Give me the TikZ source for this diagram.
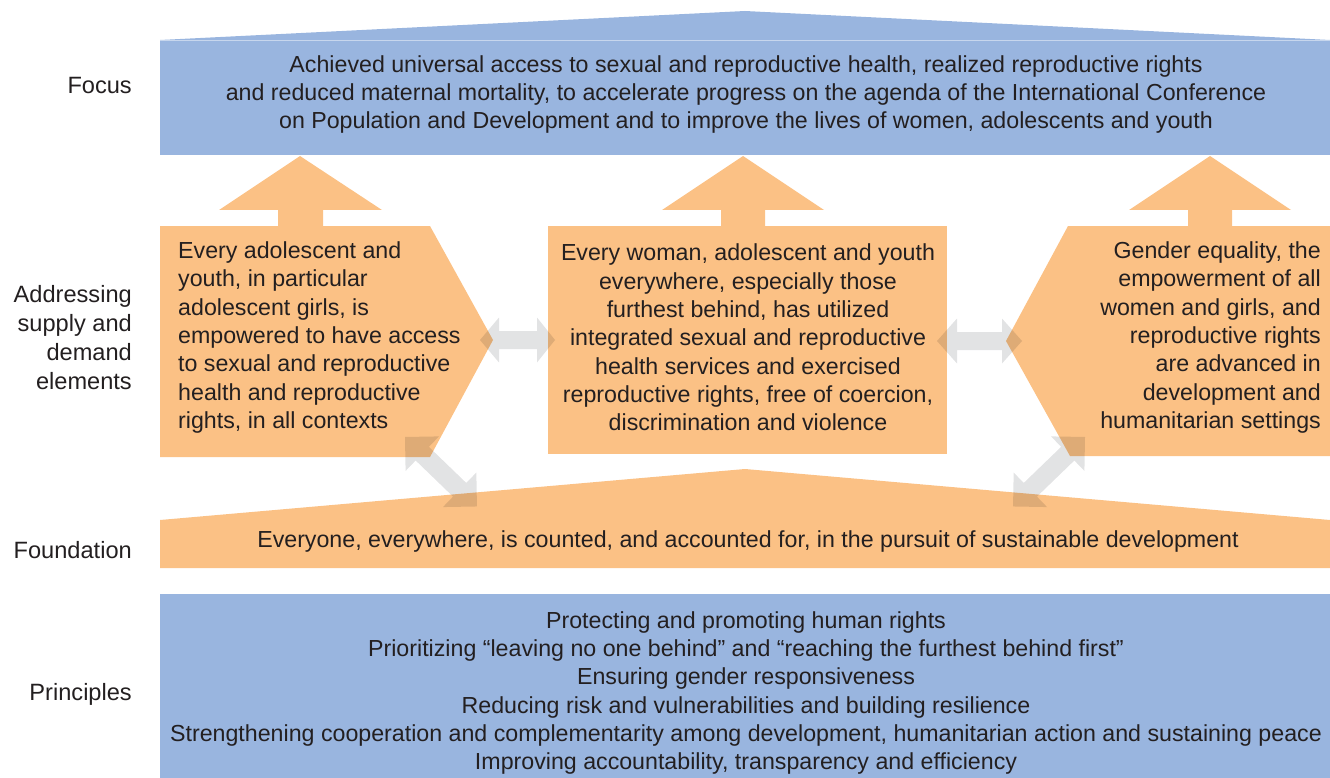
\documentclass[tikz,border=0pt]{standalone}
\usepackage{fontspec}
\setmainfont{Liberation Sans}
\definecolor{fblue}{RGB}{153,181,223}
\definecolor{forange}{RGB}{251,193,133}
\definecolor{fgray}{RGB}{226,227,228}
\definecolor{ftext}{RGB}{35,31,32}
\begin{document}
\begin{tikzpicture}[x=1pt,y=-1pt,
  txt/.style={text=ftext, font=\fontsize{23.2}{28.3}\selectfont, inner sep=0pt},
  lbl/.style={text=ftext, font=\fontsize{23.6}{28.8}\selectfont, inner sep=0pt, anchor=east, align=right},
  bluefill/.style={fill=fblue},
  orangefill/.style={fill=forange},
  grayarrow/.style={fill=fgray, blend mode=multiply},
]
\useasboundingbox (0,0) rectangle (1330,778);
% focus
\fill[bluefill] (160,40) -- (745,11) -- (1330,40) -- (1330,155) -- (160,155) -- cycle;
\draw[white, opacity=0.45, line width=0.7pt] (160,40) -- (1330,40);
% up arrows
\fill[orangefill] (300,156) -- (382,210) -- (323,210) -- (323,226) -- (278,226) -- (278,210) -- (219,210) -- cycle;
\fill[orangefill] (743,156) -- (824,210) -- (765,210) -- (765,226) -- (721,226) -- (721,210) -- (662,210) -- cycle;
\fill[orangefill] (1210,156) -- (1291,210) -- (1232,210) -- (1232,226) -- (1188,226) -- (1188,210) -- (1129,210) -- cycle;
% middle boxes
\fill[orangefill] (160,226) -- (430,226) -- (493,340) -- (430,457) -- (160,457) -- cycle;
\fill[orangefill] (548,226) rectangle (947,454);
\fill[orangefill] (1068,226) -- (1330,226) -- (1330,456) -- (1070,456) -- (1006,341) -- cycle;
% foundation
\fill[orangefill] (160,520) -- (745,469) -- (1330,520) -- (1330,568) -- (160,568) -- cycle;
% principles
\fill[bluefill] (160,594) rectangle (1330,778);
% gray double arrows
\fill[grayarrow] (480,340) -- (499,317.5) -- (499,331) -- (537,331) -- (537,317.5) -- (555,340) -- (537,362.5) -- (537,349) -- (499,349) -- (499,362.5) -- cycle;
\fill[grayarrow] (937,341) -- (957,318.5) -- (957,332) -- (1002,332) -- (1002,318.5) -- (1022,341) -- (1002,363.5) -- (1002,350) -- (957,350) -- (957,363.5) -- cycle;
\begin{scope}[shift={(405,437)}, rotate=-44]
\fill[grayarrow] (0,0) -- (24,-24) -- (24,-9.5) -- (76,-9.5) -- (76,-24) -- (100,0) -- (76,24) -- (76,9.5) -- (24,9.5) -- (24,24) -- cycle;
\end{scope}
\begin{scope}[shift={(1085,437)}, rotate=-136]
\fill[grayarrow] (0,0) -- (24,-24) -- (24,-9.5) -- (76,-9.5) -- (76,-24) -- (100,0) -- (76,24) -- (76,9.5) -- (24,9.5) -- (24,24) -- cycle;
\end{scope}
% texts
\node[txt, align=center] (focus) at (746,94.5) {Achieved universal access to sexual and reproductive health, realized reproductive rights\\and reduced maternal mortality, to accelerate progress on the agenda of the International Conference\\on Population and Development and to improve the lives of women, adolescents and youth};
\node[txt, align=left, anchor=west] (supply) at (178,337.5) {Every adolescent and\\youth, in particular\\adolescent girls, is\\empowered to have access\\to sexual and reproductive\\health and reproductive\\rights, in all contexts};
\node[txt, align=center] (demand) at (748,337.5) {Every woman, adolescent and youth\\everywhere, especially those\\furthest behind, has utilized\\integrated sexual and reproductive\\health services and exercised\\reproductive rights, free of coercion,\\discrimination and violence};
\node[txt, align=right, anchor=east] (gender) at (1321,337.5) {Gender equality, the\\empowerment of all\\women and girls, and\\reproductive rights\\are advanced in\\development and\\humanitarian settings};
\node[txt] (found) at (748,541.5) {Everyone, everywhere, is counted, and accounted for, in the pursuit of sustainable development};
\node[txt, align=center] (princ) at (746,693) {Protecting and promoting human rights\\Prioritizing “leaving no one behind” and “reaching the furthest behind first”\\Ensuring gender responsiveness\\Reducing risk and vulnerabilities and building resilience\\Strengthening cooperation and complementarity among development, humanitarian action and sustaining peace\\Improving accountability, transparency and efficiency};
% labels
\node[lbl] (lfocus) at (132,85) {Focus};
\node[lbl] (laddr) at (132,337.5) {Addressing\\supply and\\demand\\elements};
\node[lbl] (lfound) at (132,550) {Foundation};
\node[lbl] (lprinc) at (132,694) {Principles};
\end{tikzpicture}
\end{document}
